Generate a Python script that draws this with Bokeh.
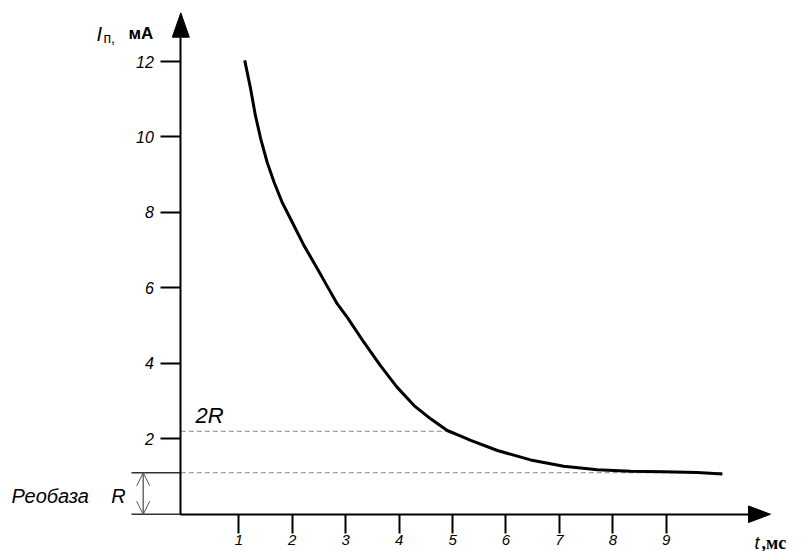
from bokeh.plotting import figure
from bokeh.models import (Range1d, LinearAxis, FixedTicker, Label, Arrow, OpenHead)
from bokeh.embed import file_html
from bokeh.resources import INLINE

# ---- data ----
t_ms = [1.11, 1.22, 1.31, 1.41, 1.53, 1.66, 1.81, 2.00, 2.22, 2.47, 2.68,
        2.84, 3.03, 3.34, 3.65, 3.96, 4.28, 4.59, 4.90, 5.21, 5.34, 5.84,
        6.46, 7.08, 7.71, 8.33, 8.95, 9.58, 10.05]
i_ma = [12.03, 11.28, 10.57, 9.95, 9.33, 8.80, 8.27, 7.74, 7.12, 6.51, 5.98,
        5.58, 5.22, 4.56, 3.94, 3.37, 2.88, 2.53, 2.22, 2.04, 1.96, 1.69,
        1.44, 1.27, 1.18, 1.14, 1.13, 1.11, 1.07]
x_ticks = [1, 2, 3, 4, 5, 6, 7, 8, 9]
y_ticks = [2, 4, 6, 8, 10, 12]
rheobase = 1.1            # R
double_rheobase = 2.2     # 2R
double_end = 4.9          # where the 2R line meets the curve
x_label_main = "t"
x_label_unit = ",мс"
y_label_main = "I"
y_label_sub = "п,"
y_label_unit = "мА"
rheo_text = "Реобаза\u00a0\u00a0\u00a0\u00a0R"
double_text = "2R"

# ---- layout (pixel geometry of the drawing) ----
W, H = 803, 551
ORG_X, SX = 184.9, 53.43      # pixel of t=0, pixels per ms
ORG_Y, SY = 513.76, 37.73     # pixel of I=0, pixels per mA

def dx(px):
    return (px - ORG_X) / SX

def dy(py):
    return (ORG_Y - py) / SY

X0, X1 = dx(0), dx(W)
Y0, Y1 = dy(H), dy(0)
yaxis_x = dx(180.3)
x_arrow_base, x_arrow_tip = dx(748), dx(770)
y_arrow_base, y_arrow_tip = dy(36.7), dy(12.3)

p = figure(width=W, height=H, x_range=Range1d(X0, X1), y_range=Range1d(Y0, Y1),
           output_backend="svg", toolbar_location=None, min_border=0,
           x_axis_type=None, y_axis_type=None)
p.outline_line_color = None
p.xgrid.visible = False
p.ygrid.visible = False
p.background_fill_color = "white"
p.border_fill_color = "white"

FONT = "Liberation Sans"

xaxis = LinearAxis(fixed_location=0, bounds=(yaxis_x, x_arrow_base),
                   ticker=FixedTicker(ticks=x_ticks))
xaxis.axis_line_width = 2
xaxis.axis_line_color = "black"
xaxis.major_tick_line_width = 2
xaxis.major_tick_out = 19
xaxis.major_tick_in = 0
xaxis.minor_tick_line_color = None
xaxis.major_label_standoff = 2
xaxis.major_label_text_font = FONT
xaxis.major_label_text_font_style = "italic"
xaxis.major_label_text_font_size = "15px"
xaxis.major_label_text_color = "black"
p.add_layout(xaxis, "below")

yaxis = LinearAxis(fixed_location=yaxis_x, bounds=(0, y_arrow_base),
                   ticker=FixedTicker(ticks=y_ticks))
yaxis.axis_line_width = 2
yaxis.axis_line_color = "black"
yaxis.major_tick_line_width = 2
yaxis.major_tick_out = 20
yaxis.major_tick_in = 0
yaxis.minor_tick_line_color = None
yaxis.major_label_standoff = 7
yaxis.major_label_text_font = FONT
yaxis.major_label_text_font_style = "italic"
yaxis.major_label_text_font_size = "16px"
yaxis.major_label_text_color = "black"
p.add_layout(yaxis, "left")

# arrow heads of the axes
hx = 8.5 / SX
hy = 8.3 / SY
p.patches(xs=[[yaxis_x - hx, yaxis_x + hx, yaxis_x],
              [x_arrow_base, x_arrow_base, x_arrow_tip]],
          ys=[[y_arrow_base, y_arrow_base, y_arrow_tip],
              [-hy, hy, 0]],
          fill_color="black", line_color="black", line_width=1)

# reference lines
ext_left = dx(131)
p.segment(x0=[ext_left, ext_left], y0=[0, rheobase], x1=[yaxis_x, yaxis_x],
          y1=[0, rheobase], line_color="#333333", line_width=1.3)
p.segment(x0=[yaxis_x, yaxis_x], y0=[double_rheobase, rheobase],
          x1=[double_end, t_ms[-1]], y1=[double_rheobase, rheobase],
          line_color="#888888", line_width=1, line_dash="5 3")

# double arrow for rheobase
arr_x = dx(142.7)
p.add_layout(Arrow(start=OpenHead(size=13, line_color="#555555", line_width=1),
                   end=OpenHead(size=13, line_color="#555555", line_width=1),
                   x_start=arr_x, y_start=0, x_end=arr_x, y_end=rheobase,
                   line_color="#555555", line_width=1.3))

# curve
p.line(t_ms, i_ma, line_color="black", line_width=3, line_join="round")

# texts
def lab(px, py, text, size, style="italic", font=FONT, align="left"):
    p.add_layout(Label(x=dx(px), y=dy(py), text=text, text_font=font,
                       text_font_size=size, text_font_style=style,
                       text_color="black", text_baseline="alphabetic",
                       text_align=align))

lab(195, 415, double_text, "22px")
lab(11, 495, rheo_text, "20px")
lab(96, 33, y_label_main, "20px")
lab(103, 37, y_label_sub, "14px", style="normal")
lab(128, 33, y_label_unit, "17px", style="bold")
lab(754, 542, x_label_main, "18px")
lab(761, 542, x_label_unit, "18px", style="bold", font="Liberation Serif")

open("out.html", "w").write(file_html(p, INLINE))
